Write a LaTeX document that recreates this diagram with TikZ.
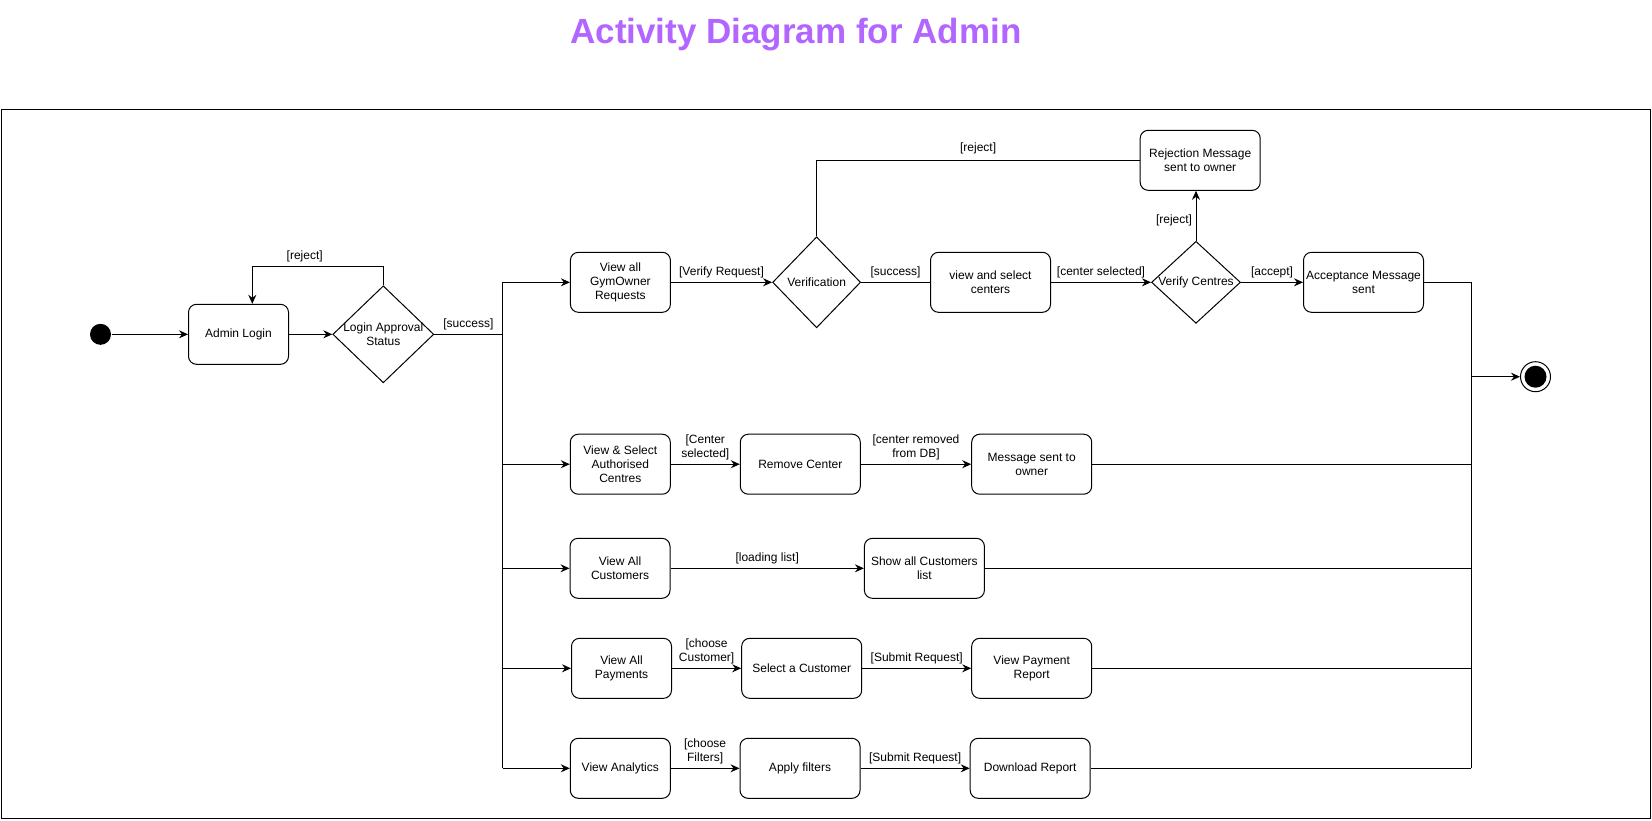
\documentclass[tikz,border=0pt]{standalone}
\usepackage{fontspec}
\setmainfont{Liberation Sans}
\usetikzlibrary{shapes.geometric}
\usetikzlibrary{arrows.meta}
\definecolor{titlepurple}{RGB}{178,102,255}

\begin{document}
\begin{tikzpicture}[x=1pt,y=-1pt,line width=1pt,font=\fontsize{12}{14}\selectfont,
  act/.style={draw,rounded corners=8pt,align=center,minimum width=120pt,minimum height=60pt,inner sep=2pt},
  actn/.style={act,minimum width=100pt},
  decide/.style={draw,diamond,inner sep=0pt},
  flow/.style={-{Stealth[length=9pt,width=8pt,inset=3pt]}},
  lbl/.style={align=center,inner sep=3.5pt}]
\useasboundingbox (0,0) rectangle (1652,820);
\node[font=\fontsize{35}{40}\selectfont\bfseries,text=titlepurple,anchor=base] (title) at (796,43) {Activity Diagram for Admin};
\draw (1,109.6) rectangle (1650,818);

\node[circle,fill,minimum size=21pt,inner sep=0pt] (start) at (100.5,334.3) {};
\node[actn] (login) at (238.5,334.3) {Admin Login};
\node[decide,minimum width=101pt,minimum height=97pt,label={[align=center]center:Login Approval\\Status}] (approve) at (383.3,334.3) {};
\coordinate (bus) at (502.5,282.3);
\coordinate (bar) at (1471,768.3);

\node[actn] (reqs) at (620.4,282.3) {View all\\GymOwner\\Requests};
\node[decide,minimum width=88pt,minimum height=91pt,label={center:Verification}] (verif) at (816.6,282.3) {};
\node[act] (centers) at (990.5,282.3) {view and select\\centers};
\node[decide,minimum width=89pt,minimum height=82pt,label={center:Verify Centres}] (vcent) at (1196,282.3) {};
\node[act] (accmsg) at (1363.5,282.3) {Acceptance Message\\sent};
\node[act] (rejmsg) at (1200.2,160.3) {Rejection Message\\sent to owner};

\node[actn] (authc) at (620.3,464.2) {View \& Select\\Authorised\\Centres};
\node[act] (remc) at (800.3,464.2) {Remove Center};
\node[act] (msg) at (1031.7,464.2) {Message sent to\\owner};

\node[actn] (cust) at (620,568.3) {View All\\Customers};
\node[act] (custlist) at (924.4,568.3) {Show all Customers\\list};

\node[actn] (pay) at (621.5,668.3) {View All\\Payments};
\node[act] (selc) at (801.7,668.3) {Select a Customer};
\node[act] (payrep) at (1031.7,668.3) {View Payment\\Report};

\node[actn] (anly) at (620.3,768.3) {View Analytics};
\node[act] (filt) at (800,768.3) {Apply filters};
\node[act] (dlrep) at (1030.2,768.3) {Download Report};

\node[circle,draw,minimum size=30pt,inner sep=0pt] (finish) at (1535.5,376.7) {};
\fill (finish) circle (11);

\draw[flow] (start) -- (login);
\draw[flow] (login) -- (approve);
\draw[flow] (approve.north) -- ++(0,-19.3) -| ([xshift=13.8pt]login.north) node[lbl,above,pos=0.3] (lrej1) {[reject]};
\draw (approve.east) -- (approve.east -| bus) node[lbl,above,midway] (lsucc1) {[success]};
\draw (bus) -- (bus |- anly.west);
\draw[flow] (bus) -- (reqs);
\draw[flow] (bus |- authc.west) -- (authc);
\draw[flow] (bus |- cust.west) -- (cust);
\draw[flow] (bus |- pay.west) -- (pay);
\draw[flow] (bus |- anly.west) -- (anly);

\draw[flow] (reqs) -- node[lbl,above] (lverreq) {[Verify Request]} (verif);
\draw (verif) -- node[lbl,above] (lsucc2) {[success]} (centers);
\draw[flow] (centers) -- node[lbl,above] (lcsel) {[center selected]} (vcent);
\draw[flow] (vcent) -- node[lbl,above] (lacc) {[accept]} (accmsg);
\draw[flow] (vcent.north) -- node[lbl,left,pos=0.4] (lrej2) {[reject]} (vcent.north |- rejmsg.south);
\draw (verif.north) |- node[lbl,above,pos=0.75,yshift=2pt] (lrej3) {[reject]} (rejmsg.west);

\draw[flow] (authc) -- node[lbl,above] (lcsel2) {[Center\\selected]} (remc);
\draw[flow] (remc) -- node[lbl,above] (lremdb) {[center removed\\from DB]} (msg);
\draw[flow] (cust) -- node[lbl,above] (lload) {[loading list]} (custlist);
\draw[flow] (pay) -- node[lbl,above] (lchcust) {[choose\\Customer]} (selc);
\draw[flow] (selc) -- node[lbl,above] (lsub1) {[Submit Request]} (payrep);
\draw[flow] (anly) -- node[lbl,above] (lchfilt) {[choose\\Filters]} (filt);
\draw[flow] (filt) -- node[lbl,above] (lsub2) {[Submit Request]} (dlrep);

\draw (accmsg.east) -| (bar);
\draw (msg.east) -- (msg.east -| bar);
\draw (custlist.east) -- (custlist.east -| bar);
\draw (payrep.east) -- (payrep.east -| bar);
\draw (dlrep.east) -- (dlrep.east -| bar);
\draw[flow] (bar |- finish) -- (finish);

\end{tikzpicture}
\end{document}
